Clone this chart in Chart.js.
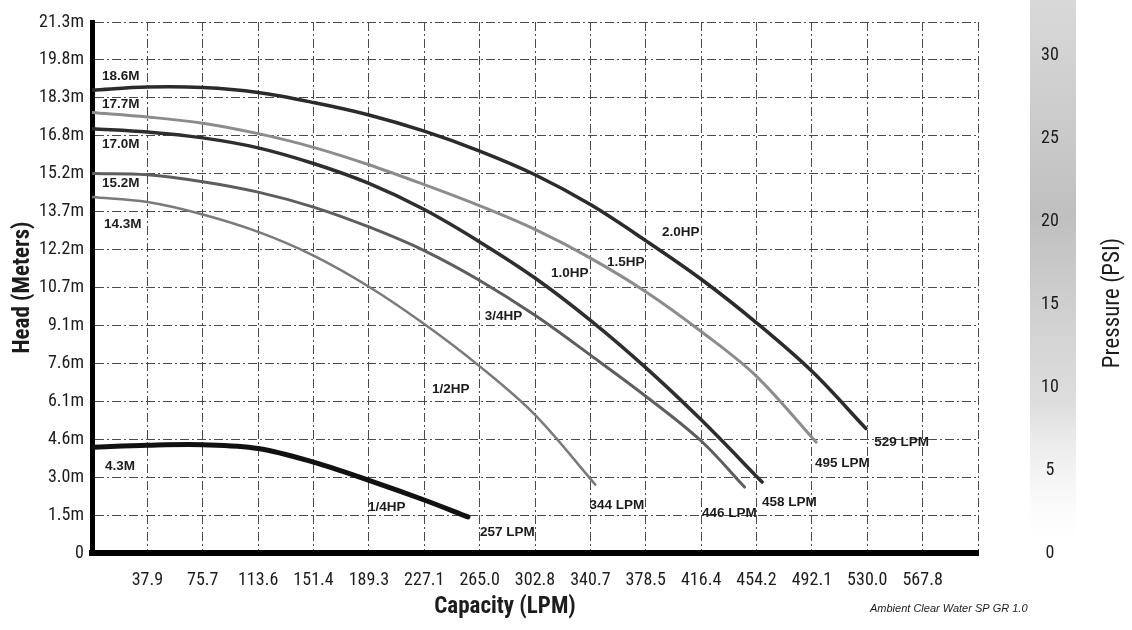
<!DOCTYPE html>
<html>
<head>
<meta charset="utf-8">
<script src="https://cdn.jsdelivr.net/npm/chart.js@4.4.1/dist/chart.umd.min.js"></script>
<style>
  html, body { margin: 0; padding: 0; background: #fff; }
  #wrap { width: 1132px; height: 630px; position: relative; }
</style>
</head>
<body>
<div id="wrap"><canvas id="pumpChart"></canvas></div>
<script>
// head (m) vs capacity (LPM) for each motor size
const hpNames = ['2.0HP', '1.5HP', '1.0HP', '3/4HP', '1/2HP', '1/4HP'];

const flow20 = [0, 37.9, 75.7, 113.6, 151.4, 189.3, 227.1, 265.0, 302.8, 340.7, 378.5, 416.4, 454.2, 492.1, 529];
const head20 = [18.6, 18.72, 18.7, 18.5, 18.1, 17.6, 16.95, 16.15, 15.2, 14.0, 12.55, 11.0, 9.25, 7.3, 5.0];

const flow15 = [0, 37.9, 75.7, 113.6, 151.4, 189.3, 227.1, 265.0, 302.8, 340.7, 378.5, 416.4, 454.2, 495];
const head15 = [17.7, 17.52, 17.27, 16.85, 16.3, 15.6, 14.8, 13.95, 13.0, 11.85, 10.5, 8.9, 7.1, 4.45];

const flow10 = [0, 37.9, 75.7, 113.6, 151.4, 189.3, 227.1, 265.0, 302.8, 340.7, 378.5, 416.4, 458];
const head10 = [17.05, 16.92, 16.68, 16.28, 15.65, 14.85, 13.8, 12.5, 11.05, 9.35, 7.45, 5.35, 2.85];

const flow075 = [0, 37.9, 75.7, 113.6, 151.4, 189.3, 227.1, 265.0, 302.8, 340.7, 378.5, 416.4, 446];
const head075 = [15.25, 15.2, 14.92, 14.5, 13.9, 13.1, 12.15, 10.95, 9.55, 7.95, 6.3, 4.5, 2.65];

const flow05 = [0, 37.9, 75.7, 113.6, 151.4, 189.3, 227.1, 265.0, 302.8, 344];
const head05 = [14.3, 14.1, 13.6, 12.9, 11.95, 10.7, 9.2, 7.5, 5.55, 2.75];

const flow025 = [0, 37.9, 75.7, 113.6, 151.4, 189.3, 227.1, 257];
const head025 = [4.25, 4.33, 4.35, 4.2, 3.65, 2.92, 2.13, 1.45];

// axis ticks (5 ft / 10 GPM steps shown in metric)
const headTickLabels = ['0', '1.5m', '3.0m', '4.6m', '6.1m', '7.6m', '9.1m', '10.7m', '12.2m', '13.7m', '15.2m', '16.8m', '18.3m', '19.8m', '21.3m'];
const headStep = 1.524;
const capTickLabels = ['', '37.9', '75.7', '113.6', '151.4', '189.3', '227.1', '265.0', '302.8', '340.7', '378.5', '416.4', '454.2', '492.1', '530.0', '567.8', ''];
const capStep = 37.85;
const psiTickLabels = ['0', '5', '10', '15', '20', '25', '30'];
const psiStep = 5;
const psiMax = 32.05;

// text printed on the curves (value coordinates)
const notes = [
  { text: '18.6M', x: 6.8, y: 19.16 },
  { text: '17.7M', x: 6.8, y: 18.04 },
  { text: '17.0M', x: 6.8, y: 16.43 },
  { text: '15.2M', x: 6.8, y: 14.87 },
  { text: '14.3M', x: 8.2, y: 13.22 },
  { text: '4.3M', x: 8.9, y: 3.5 },
  { text: '2.0HP', x: 389.6, y: 12.9 },
  { text: '1.5HP', x: 352.0, y: 11.69 },
  { text: '1.0HP', x: 313.7, y: 11.25 },
  { text: '3/4HP', x: 268.4, y: 9.52 },
  { text: '1/2HP', x: 232.4, y: 6.59 },
  { text: '1/4HP', x: 188.7, y: 1.85 },
  { text: '257 LPM', x: 265.2, y: 0.84 },
  { text: '344 LPM', x: 340.1, y: 1.93 },
  { text: '446 LPM', x: 416.9, y: 1.61 },
  { text: '458 LPM', x: 457.9, y: 2.05 },
  { text: '495 LPM', x: 494.2, y: 3.62 },
  { text: '529 LPM', x: 534.7, y: 4.46 }
];

const narrow = "'Roboto Condensed', 'DejaVu Sans Condensed', sans-serif";
const ink = '#1c1c1c';

function pts(flows, heads) {
  return flows.map((f, i) => ({ x: f, y: heads[i] }));
}

function curve(name, flows, heads, color, width) {
  return {
    label: name,
    data: pts(flows, heads),
    borderColor: color,
    borderWidth: width,
    pointRadius: 0,
    fill: false,
    tension: 0.35,
    borderCapStyle: 'round'
  };
}

const extras = {
  id: 'extras',
  beforeDraw(chart) {
    const ctx = chart.ctx;
    ctx.save();
    ctx.fillStyle = '#fff';
    ctx.fillRect(0, 0, chart.width, chart.height);
    // shaded pressure strip
    const g = ctx.createLinearGradient(0, 0, 0, 540);
    g.addColorStop(0, 'rgba(185,185,185,0.55)');
    g.addColorStop(0.4, 'rgba(170,170,170,0.75)');
    g.addColorStop(0.75, 'rgba(195,195,195,0.55)');
    g.addColorStop(1, 'rgba(230,230,230,0)');
    ctx.fillStyle = g;
    ctx.fillRect(1030, 0, 46, 540);
    ctx.restore();
  },
  afterDraw(chart) {
    const { ctx, scales: { x, y } } = chart;
    ctx.save();
    ctx.fillStyle = ink;
    ctx.textBaseline = 'middle';
    ctx.textAlign = 'left';
    ctx.font = "bold 13.5px 'Liberation Sans', Arial, sans-serif";
    notes.forEach(n => ctx.fillText(n.text, x.getPixelForValue(n.x), y.getPixelForValue(n.y)));

    ctx.textAlign = 'center';
    ctx.font = 'bold 23px ' + narrow;
    ctx.fillText('Capacity (LPM)', 505, 607);

    ctx.textAlign = 'left';
    ctx.font = "italic 11px 'Liberation Sans', Arial, sans-serif";
    ctx.fillText('Ambient Clear Water SP GR 1.0', 870, 609);

    ctx.translate(1113, 303);
    ctx.rotate(-Math.PI / 2);
    ctx.textAlign = 'center';
    ctx.font = '23px ' + narrow;
    ctx.fillText('Pressure (PSI)', 0, 0);
    ctx.restore();
  }
};

new Chart(document.getElementById('pumpChart'), {
  type: 'line',
  data: {
    datasets: [
      curve(hpNames[0], flow20, head20, '#2b2b2b', 3.5),
      curve(hpNames[1], flow15, head15, '#8c8c8c', 3),
      curve(hpNames[2], flow10, head10, '#2e2e2e', 3.5),
      curve(hpNames[3], flow075, head075, '#5e5e5e', 3),
      curve(hpNames[4], flow05, head05, '#7a7a7a', 2.5),
      curve(hpNames[5], flow025, head025, '#111', 5)
    ]
  },
  options: {
    responsive: true,
    maintainAspectRatio: false,
    animation: false,
    layout: { padding: { top: 22, left: 0, right: 0, bottom: 0 } },
    plugins: { legend: { display: false }, tooltip: { enabled: false } },
    scales: {
      x: {
        type: 'linear',
        min: 0,
        max: capStep * (capTickLabels.length - 1),
        afterBuildTicks: s => { s.ticks = capTickLabels.map((_, i) => ({ value: i * capStep })); },
        afterFit: s => { s.height = 77; s.paddingLeft = 0; s.paddingRight = 0; },
        ticks: {
          autoSkip: false,
          maxRotation: 0,
          padding: 17,
          color: ink,
          font: { family: narrow, size: 18 },
          callback: (v, i) => capTickLabels[i]
        },
        grid: { color: '#4a4a4a', lineWidth: 1, drawTicks: false },
        border: { display: true, color: '#000', width: 6, dash: [9, 3, 2, 3] }
      },
      y: {
        min: 0,
        max: headStep * (headTickLabels.length - 1),
        afterBuildTicks: s => { s.ticks = headTickLabels.map((_, i) => ({ value: i * headStep })); },
        afterFit: s => { s.width = 92; s.paddingTop = 0; s.paddingBottom = 0; },
        ticks: {
          padding: 8,
          color: ink,
          font: { family: narrow, size: 18 },
          callback: (v, i) => headTickLabels[i]
        },
        grid: { color: '#4a4a4a', lineWidth: 1, drawTicks: false },
        border: { display: true, color: '#000', width: 5, dash: [9, 3, 2, 3] },
        title: {
          display: true,
          text: 'Head (Meters)',
          color: ink,
          font: { family: narrow, size: 23, weight: 'bold' },
          padding: { top: 9, bottom: 0 }
        }
      },
      y2: {
        position: 'right',
        min: 0,
        max: psiMax,
        afterBuildTicks: s => { s.ticks = psiTickLabels.map((_, i) => ({ value: i * psiStep })); },
        afterFit: s => { s.width = 154; s.paddingTop = 0; s.paddingBottom = 0; },
        ticks: {
          padding: 63,
          crossAlign: 'center',
          color: ink,
          font: { family: narrow, size: 18 },
          callback: (v, i) => psiTickLabels[i]
        },
        grid: { display: false, drawTicks: false },
        border: { display: false }
      }
    }
  },
  plugins: [extras]
});
</script>
</body>
</html>
